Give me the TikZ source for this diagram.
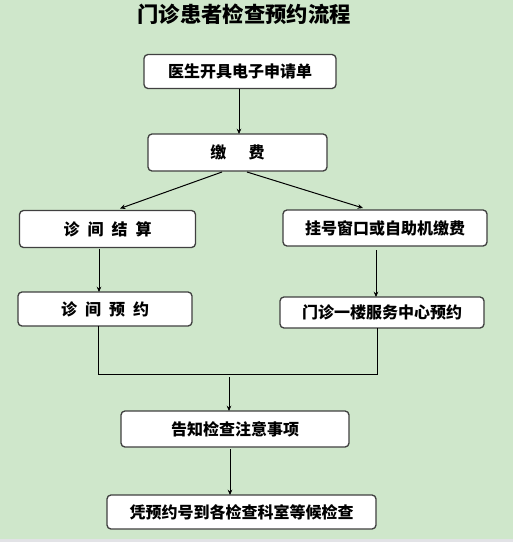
\documentclass[tikz,border=0pt]{standalone}
\usepackage{fontspec}
\setmainfont{Noto Sans CJK SC}
\usetikzlibrary{arrows.meta,calc}

\tikzset{every picture/.style={line width=0.75pt}}
\tikzset{
  liucheng/.style={draw={rgb, 255:red, 64; green, 64; blue, 64 },fill=white,line width=1pt,rounded corners=3pt,inner sep=0pt,outer sep=0pt,font=\fontsize{12}{14}\selectfont\bfseries},
  jiantou/.style={-{Stealth[length=4pt,width=3.5pt]}}
}

\begin{document}
\begin{tikzpicture}[x=0.75pt,y=0.75pt,yscale=-1,xscale=1]
\useasboundingbox (0,0) rectangle (513,542);

%Background
\fill [fill={rgb, 255:red, 207; green, 231; blue, 203 }] (0,0) rectangle (513,539);
\fill [fill={rgb, 255:red, 226; green, 226; blue, 230 }] (0,539) rectangle (513,542);

% Title
\node (biaoti) at (244,14) {\fontsize{16}{18}\selectfont\bfseries 门诊患者检查预约流程};

%Rounded Rect
\node [liucheng,minimum width=144pt,minimum height=25.5pt] (shenqing) at (240,71.5) {医生开具电子申请单};
\node [liucheng,minimum width=134.25pt,minimum height=27.75pt] (jiaofei) at (237.5,152.5) {缴\hspace{1.4em}费};
\node [liucheng,minimum width=132pt,minimum height=27.75pt] (jiesuan) at (107.5,229) {诊\enspace 间\enspace 结\enspace 算};
\node [liucheng,minimum width=153pt,minimum height=27pt] (guahao) at (385,228) {挂号窗口或自助机缴费};
\node [liucheng,minimum width=130.5pt,minimum height=25.5pt] (zhenjian) at (105,309) {诊\enspace 间\enspace 预\enspace 约};
\node [liucheng,minimum width=153pt,minimum height=23.25pt] (fuwu) at (382,312.5) {门诊一楼服务中心预约};
\node [liucheng,minimum width=171pt,minimum height=27pt] (gaozhi) at (235,429) {告知检查注意事项};
\node [liucheng,minimum width=201.75pt,minimum height=25.5pt] (houjian) at (241.5,512) {凭预约号到各检查科室等候检查};

%Straight Lines
\draw [jiantou] ($(shenqing.south)+(-1,0)$) coordinate (a1) -- (a1 |- jiaofei.north);
\draw [jiantou] ($(jiaofei.south)+(-15.5,1)$) -- ($(jiesuan.north)+(12.5,-2)$);
\draw [jiantou] ($(jiaofei.south)+(9.5,1)$) -- ($(guahao.north)+(-22,-2)$);
\draw [jiantou] ($(jiesuan.south)+(-8.5,1)$) coordinate (a2) -- (a2 |- zhenjian.north);
\draw [jiantou] ($(guahao.south)+(-9,4)$) coordinate (a3) -- (a3 |- fuwu.north);

%Merge
\coordinate (huizong) at (229,374);
\draw ($(zhenjian.south)+(-7,0)$) |- (huizong);
\draw ($(fuwu.south)+(-5,0)$) |- (huizong);
\draw [jiantou] ($(huizong)+(0,3)$) -- (huizong |- gaozhi.north);
\draw [jiantou] ($(gaozhi.south)+(-5,2)$) coordinate (a4) -- (a4 |- houjian.north);

\end{tikzpicture}
\end{document}
